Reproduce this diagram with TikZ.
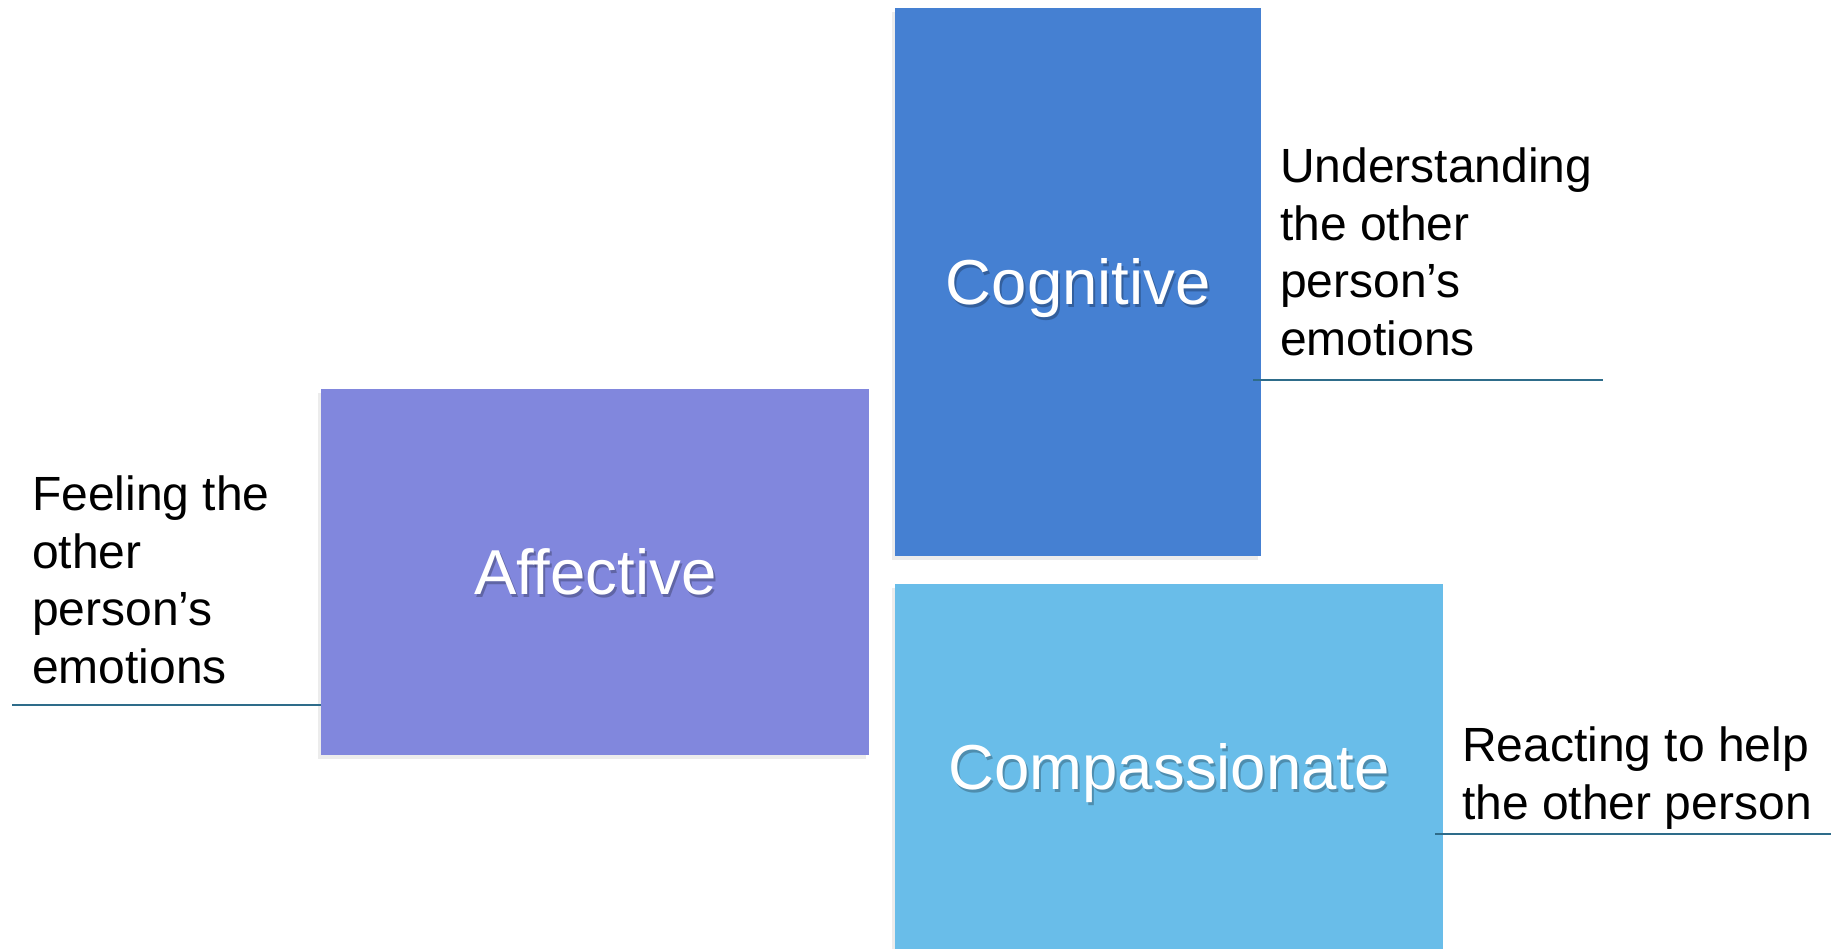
\documentclass[tikz,border=0pt]{standalone}
\usepackage{fontspec}
\setmainfont{Liberation Sans}
\usetikzlibrary{shadows}
\definecolor{bleucog}{RGB}{69,128,210}
\definecolor{violetaff}{RGB}{129,135,221}
\definecolor{cielcomp}{RGB}{105,189,233}
\definecolor{trait}{RGB}{46,108,138}
\tikzset{bloc/.style={
    inner sep=0pt, anchor=north west,
    drop shadow={shadow xshift=-3pt, shadow yshift=-4pt, opacity=0.15}},
  titre/.style={
    text=white, inner sep=0pt, text height=45.5pt, text depth=0pt,
    font=\fontsize{63.5}{70}\selectfont},
  ombre/.style={titre, text=black, opacity=0.25},
  legende/.style={
    align=left, anchor=north west, inner sep=0pt,
    font=\fontsize{48}{57.5}\selectfont},
  souligne/.style={draw=trait, line width=1.5pt}}

\begin{document}
\begin{tikzpicture}[x=1pt, y=-1pt]
\useasboundingbox (0,0) rectangle (1831,949);

  % blocs
  \node[bloc, fill=bleucog, minimum width=366pt, minimum height=548pt] (bcog) at (895,8) {};
  \node[bloc, fill=violetaff, minimum width=548pt, minimum height=366pt] (baff) at (321,389) {};
  \node[bloc, fill=cielcomp, minimum width=548pt, minimum height=366pt] (bcomp) at (895,584) {};

  % titres
  \foreach \b/\t in {bcog/Cognitive, baff/Affective, bcomp/Compassionate}
  {
    \node[ombre] at ([shift={(2,3)}]\b.center) {\t};
    \node[titre] (t\b) at (\b.center) {\t};
  }

  % légendes
  \node[legende] (lcog) at (1280,148) {Understanding\\the other\\person’s\\emotions};
  \node[legende] (laff) at (32,476) {Feeling the\\other\\person’s\\emotions};
  \node[legende] (lcomp) at (1462,727) {Reacting to help\\the other person};

  % traits
  \coordinate (gcog) at (1253,380);
  \coordinate (gaff) at (12,705);
  \coordinate (gcomp) at (1435,834);
  \draw[souligne] (gcog) -- ++(350,0);
  \draw[souligne] (gaff) -- (gaff -| baff.west);
  \draw[souligne] (gcomp) -- ++(396,0);
\end{tikzpicture}
\end{document}
